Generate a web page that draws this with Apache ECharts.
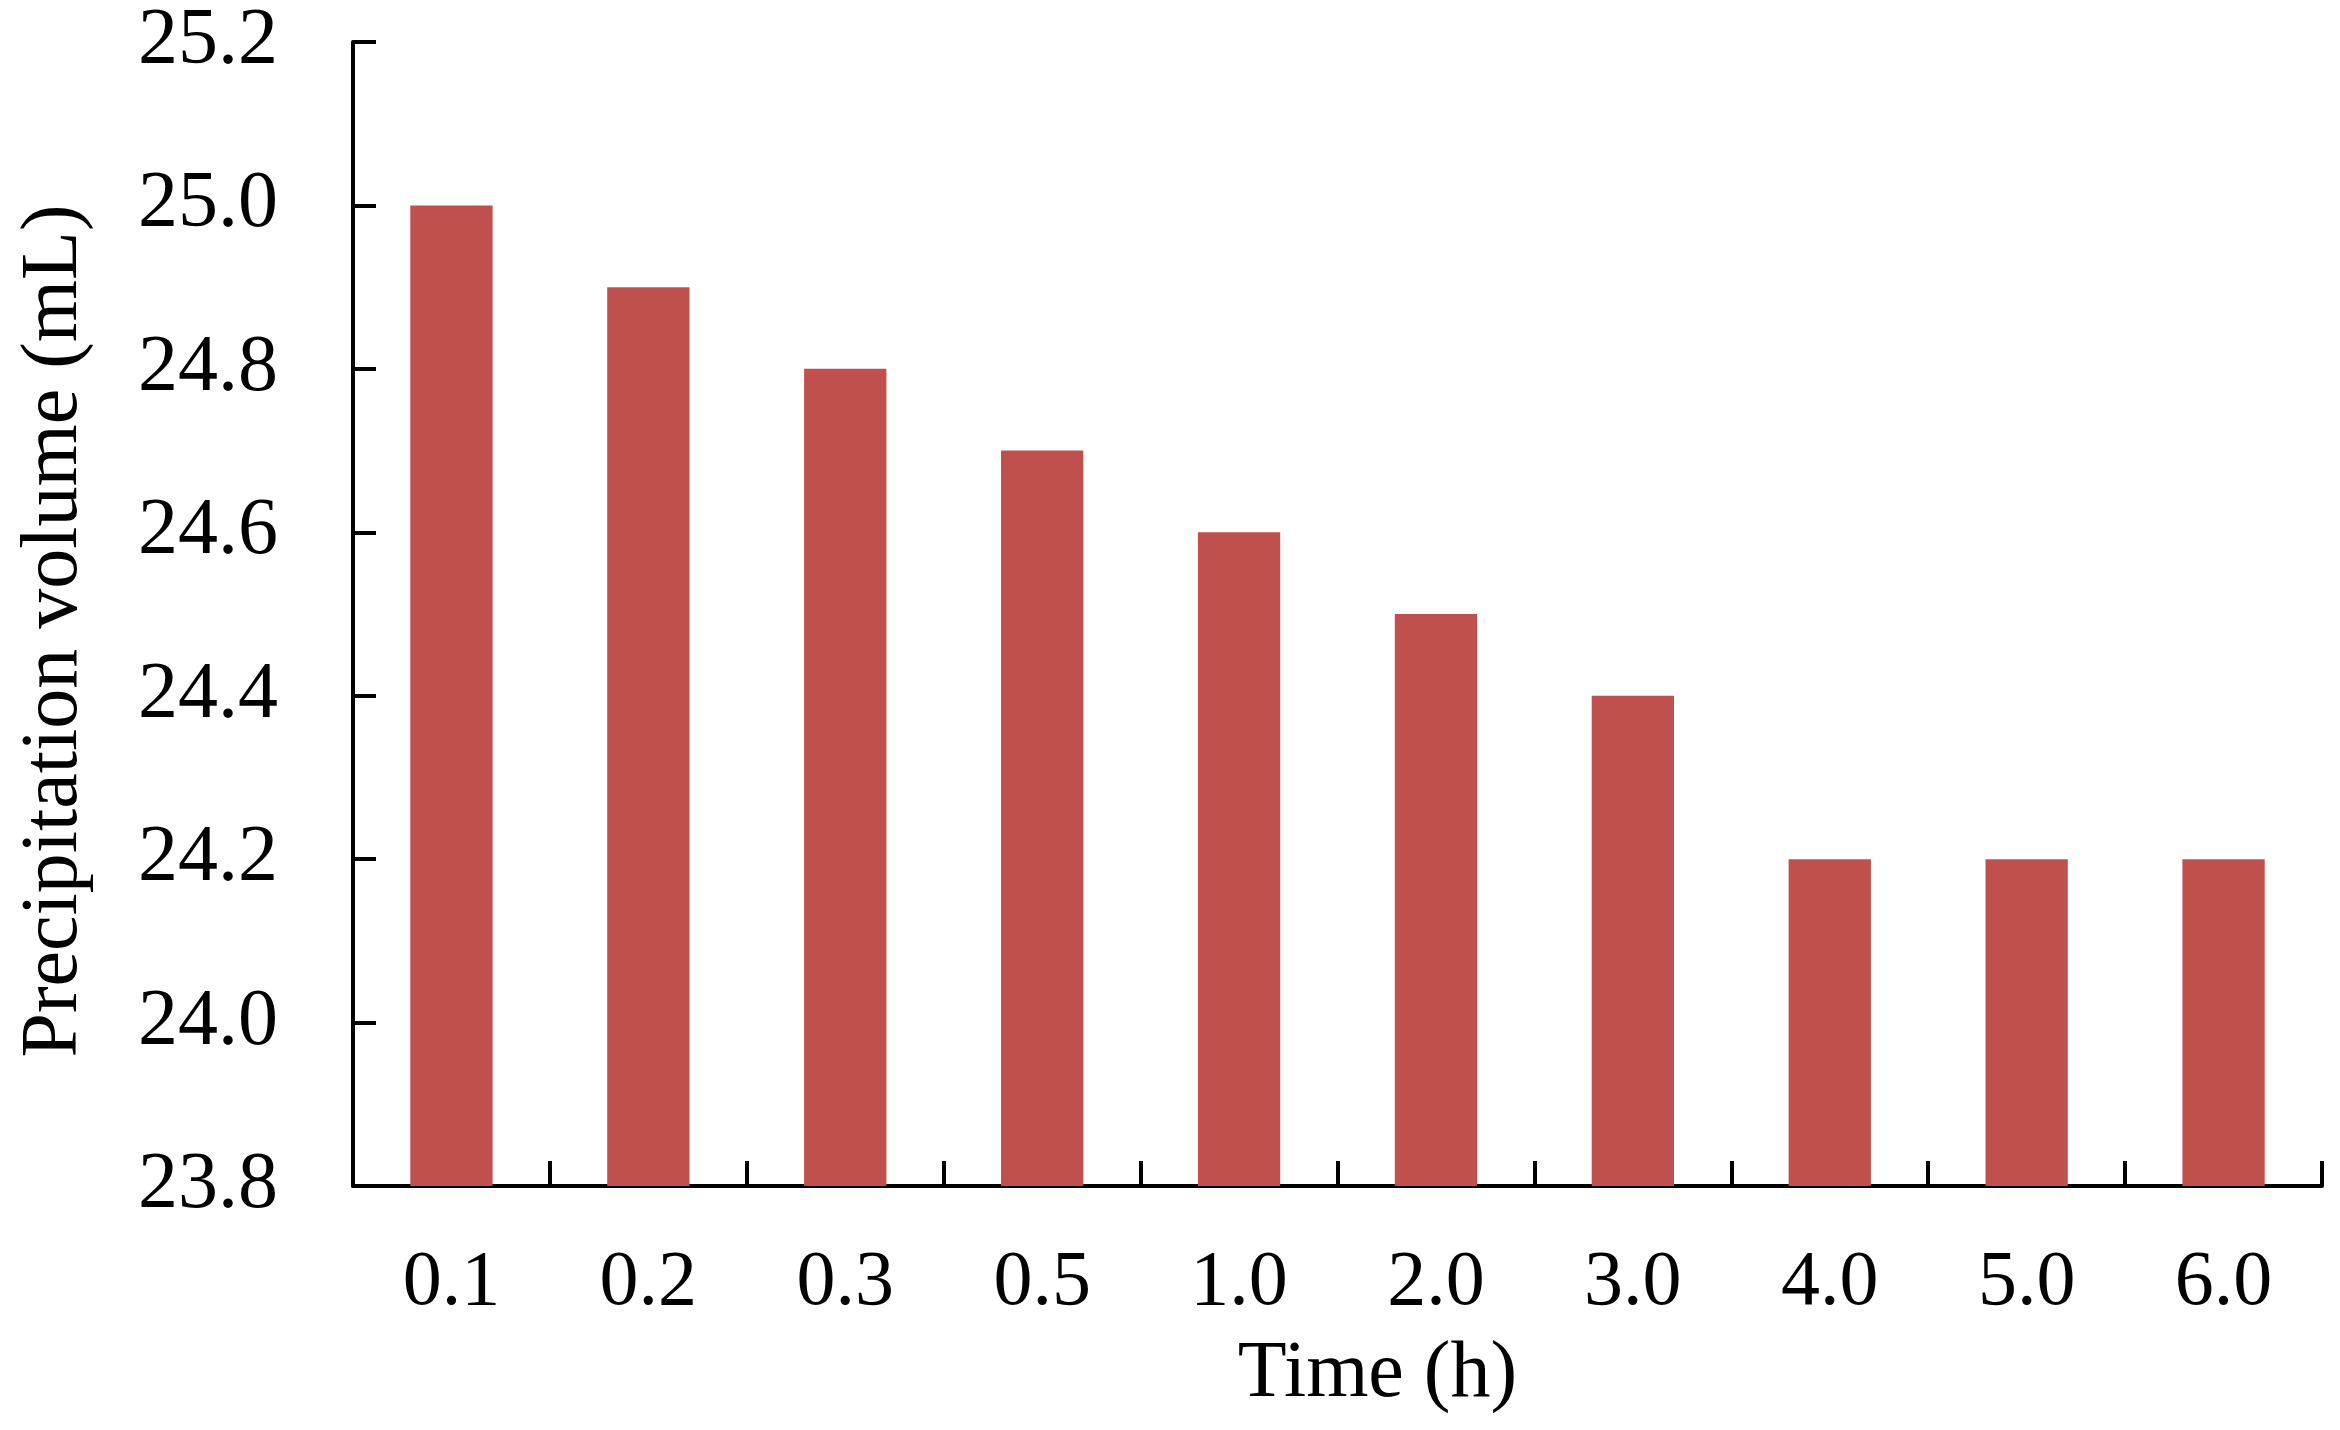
<!DOCTYPE html>
<html>
<head>
<meta charset="utf-8">
<script src="https://cdn.jsdelivr.net/npm/echarts@6/dist/echarts.min.js"></script>
<style>
html,body{margin:0;padding:0;background:#fff;}
#main{width:2340px;height:1430px;}
</style>
</head>
<body>
<div id="main"></div>
<script>
const categories = ['0.1','0.2','0.3','0.5','1.0','2.0','3.0','4.0','5.0','6.0'];
const volumes = [25.0, 24.9, 24.8, 24.7, 24.6, 24.5, 24.4, 24.2, 24.2, 24.2];
const yMin = 23.8, yMax = 25.2, yStep = 0.2;
const xTitle = 'Time (h)';
const yTitle = 'Precipitation volume (mL)';

const FONT = '"Liberation Serif","Times New Roman",serif';
const chart = echarts.init(document.getElementById('main'), null, {renderer:'canvas'});
chart.setOption({
  animation: false,
  backgroundColor: '#ffffff',
  grid: {left: 353, right: 18, top: 42, bottom: 244, containLabel: false},
  xAxis: {
    type: 'category',
    data: categories,
    boundaryGap: true,
    name: xTitle,
    nameLocation: 'middle',
    nameGap: 149,
    nameTextStyle: {fontFamily: FONT, fontSize: 80, color: '#000', padding: [0,0,0,80]},
    axisLine: {show: true, lineStyle: {color: '#000', width: 4}},
    axisTick: {show: true, inside: true, length: 25, alignWithLabel: false, lineStyle: {color: '#000', width: 4}},
    axisLabel: {fontFamily: FONT, fontSize: 78, color: '#000', margin: 59},
    splitLine: {show: false}
  },
  yAxis: {
    type: 'value',
    min: yMin, max: yMax, interval: yStep,
    name: yTitle,
    nameLocation: 'middle',
    nameGap: 258,
    nameRotate: 90,
    nameTextStyle: {fontFamily: FONT, fontSize: 80, color: '#000', padding: [0,34,0,0]},
    axisLine: {show: true, lineStyle: {color: '#000', width: 4}},
    axisTick: {show: true, inside: true, length: 23, lineStyle: {color: '#000', width: 4}},
    axisLabel: {fontFamily: FONT, fontSize: 80, color: '#000', margin: 75,
      formatter: v => v.toFixed(1)},
    splitLine: {show: false}
  },
  series: [{
    type: 'bar',
    data: volumes,
    barWidth: '41.8%',
    itemStyle: {color: '#C0504D'}
  }]
});
</script>
</body>
</html>
